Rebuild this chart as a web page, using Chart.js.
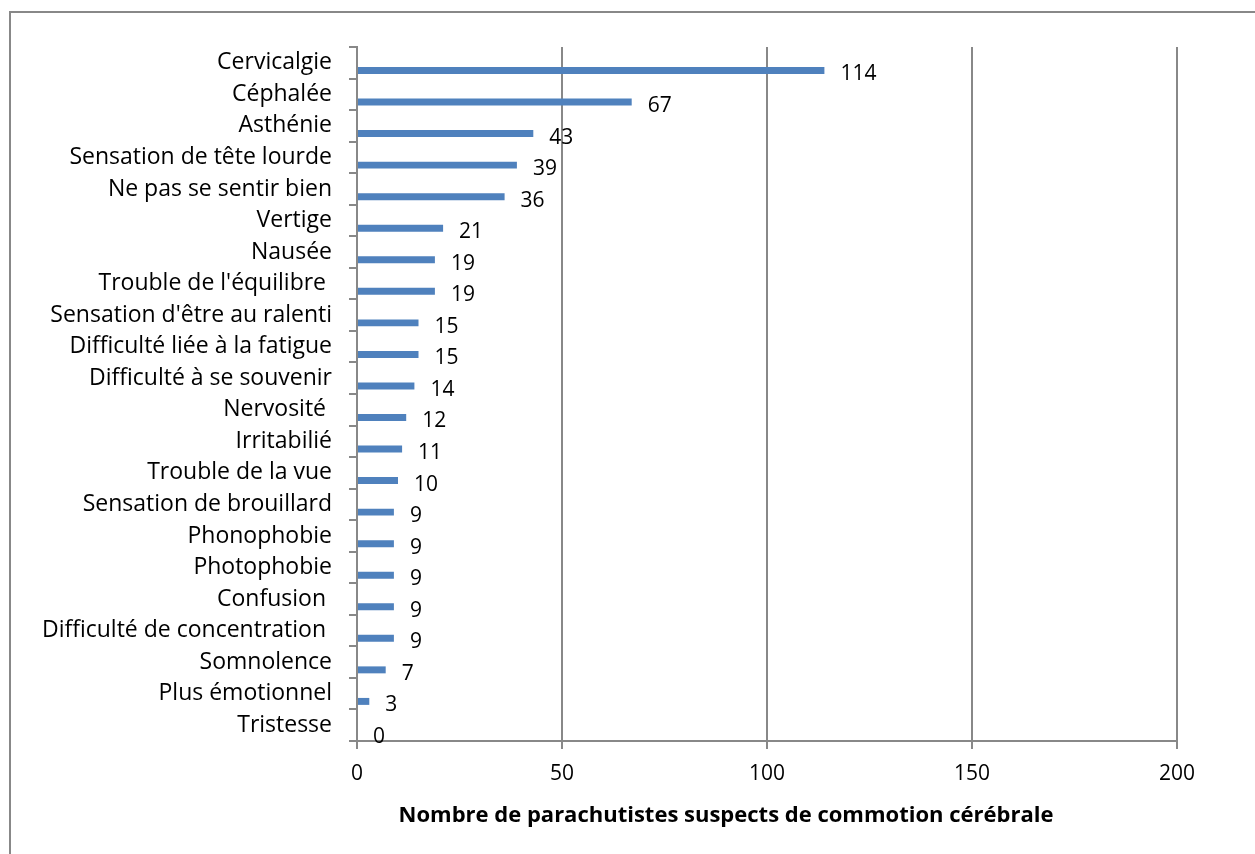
<!doctype html>
<html lang="fr">
<head>
<meta charset="UTF-8" />
<title>Symptômes</title>
<script src="https://cdn.jsdelivr.net/npm/chart.js"></script>
<style>
  html, body { margin: 0; padding: 0; background: #fff; }
  #wrap { width: 1255px; height: 854px; }
</style>
</head>
<body>
<div id="wrap"><canvas id="myChart" width="1255" height="854"></canvas></div>
<script>
// data
const symptomes = [
  "Cervicalgie", "Céphalée", "Asthénie", "Sensation de tête lourde",
  "Ne pas se sentir bien", "Vertige", "Nausée", "Trouble de l'équilibre ",
  "Sensation d'être au ralenti", "Difficulté liée à la fatigue",
  "Difficulté à se souvenir", "Nervosité ", "Irritabilié", "Trouble de la vue",
  "Sensation de brouillard", "Phonophobie", "Photophobie", "Confusion ",
  "Difficulté de concentration ", "Somnolence", "Plus émotionnel", "Tristesse"
];
const nbParachutistes = [114, 67, 43, 39, 36, 21, 19, 19, 15, 15, 14, 12, 11, 10, 9, 9, 9, 9, 9, 7, 3, 0];
const axeX = { min: 0, max: 200, pas: 50 };
const titreAxe = "Nombre de parachutistes suspects de commotion cérébrale";

const FONT = "'Open Sans', sans-serif";
const GRIS = "#888888";

// frame + axis title + value labels
const decor = {
  id: 'decor',
  beforeDraw(chart) {
    const c = chart.ctx;
    c.save();
    c.fillStyle = '#fff';
    c.fillRect(0, 0, chart.width, chart.height);
    c.strokeStyle = GRIS;
    c.lineWidth = 2;
    c.strokeRect(10, 12, 1300, 900);
    c.restore();
  },
  afterDraw(chart) {
    const c = chart.ctx;
    c.save();
    c.font = "bold 22px " + FONT;
    c.fillStyle = '#000';
    c.textAlign = 'center';
    c.textBaseline = 'middle';
    c.fillText(titreAxe, 726, 816);

    c.font = "21px " + FONT;
    c.textAlign = 'left';
    const meta = chart.getDatasetMeta(1);
    meta.data.forEach((bar, i) => {
      c.fillText(String(nbParachutistes[i]), bar.x + 16, bar.y + 4);
    });
    c.restore();
  }
};

new Chart(document.getElementById('myChart'), {
  type: 'bar',
  data: {
    labels: symptomes,
    datasets: [
      { label: '', data: symptomes.map(() => null) },
      {
        label: 'Nombre',
        data: nbParachutistes,
        backgroundColor: '#4F81BD',
        borderWidth: 0
      }
    ]
  },
  options: {
    indexAxis: 'y',
    responsive: false,
    animation: false,
    layout: { padding: { top: 47, right: 78, left: 0, bottom: 0 } },
    plugins: { legend: { display: false }, tooltip: { enabled: false } },
    datasets: { bar: { categoryPercentage: 0.98, barPercentage: 0.45 } },
    scales: {
      y: {
        afterFit(s) { s.width = 357; },
        grid: { drawOnChartArea: false, drawTicks: true, tickLength: 8, color: GRIS, lineWidth: 2, offset: true },
        border: { color: GRIS, width: 2 },
        ticks: { color: '#000', font: { family: FONT, size: 23 }, padding: 17, autoSkip: false }
      },
      x: {
        min: axeX.min,
        max: axeX.max,
        afterFit(s) { s.height = 113; },
        grid: { color: GRIS, lineWidth: 2, tickLength: 8 },
        border: { color: GRIS, width: 2 },
        ticks: { stepSize: axeX.pas, color: '#000', font: { family: FONT, size: 21 }, padding: 12 }
      }
    }
  },
  plugins: [decor]
});
</script>
</body>
</html>
